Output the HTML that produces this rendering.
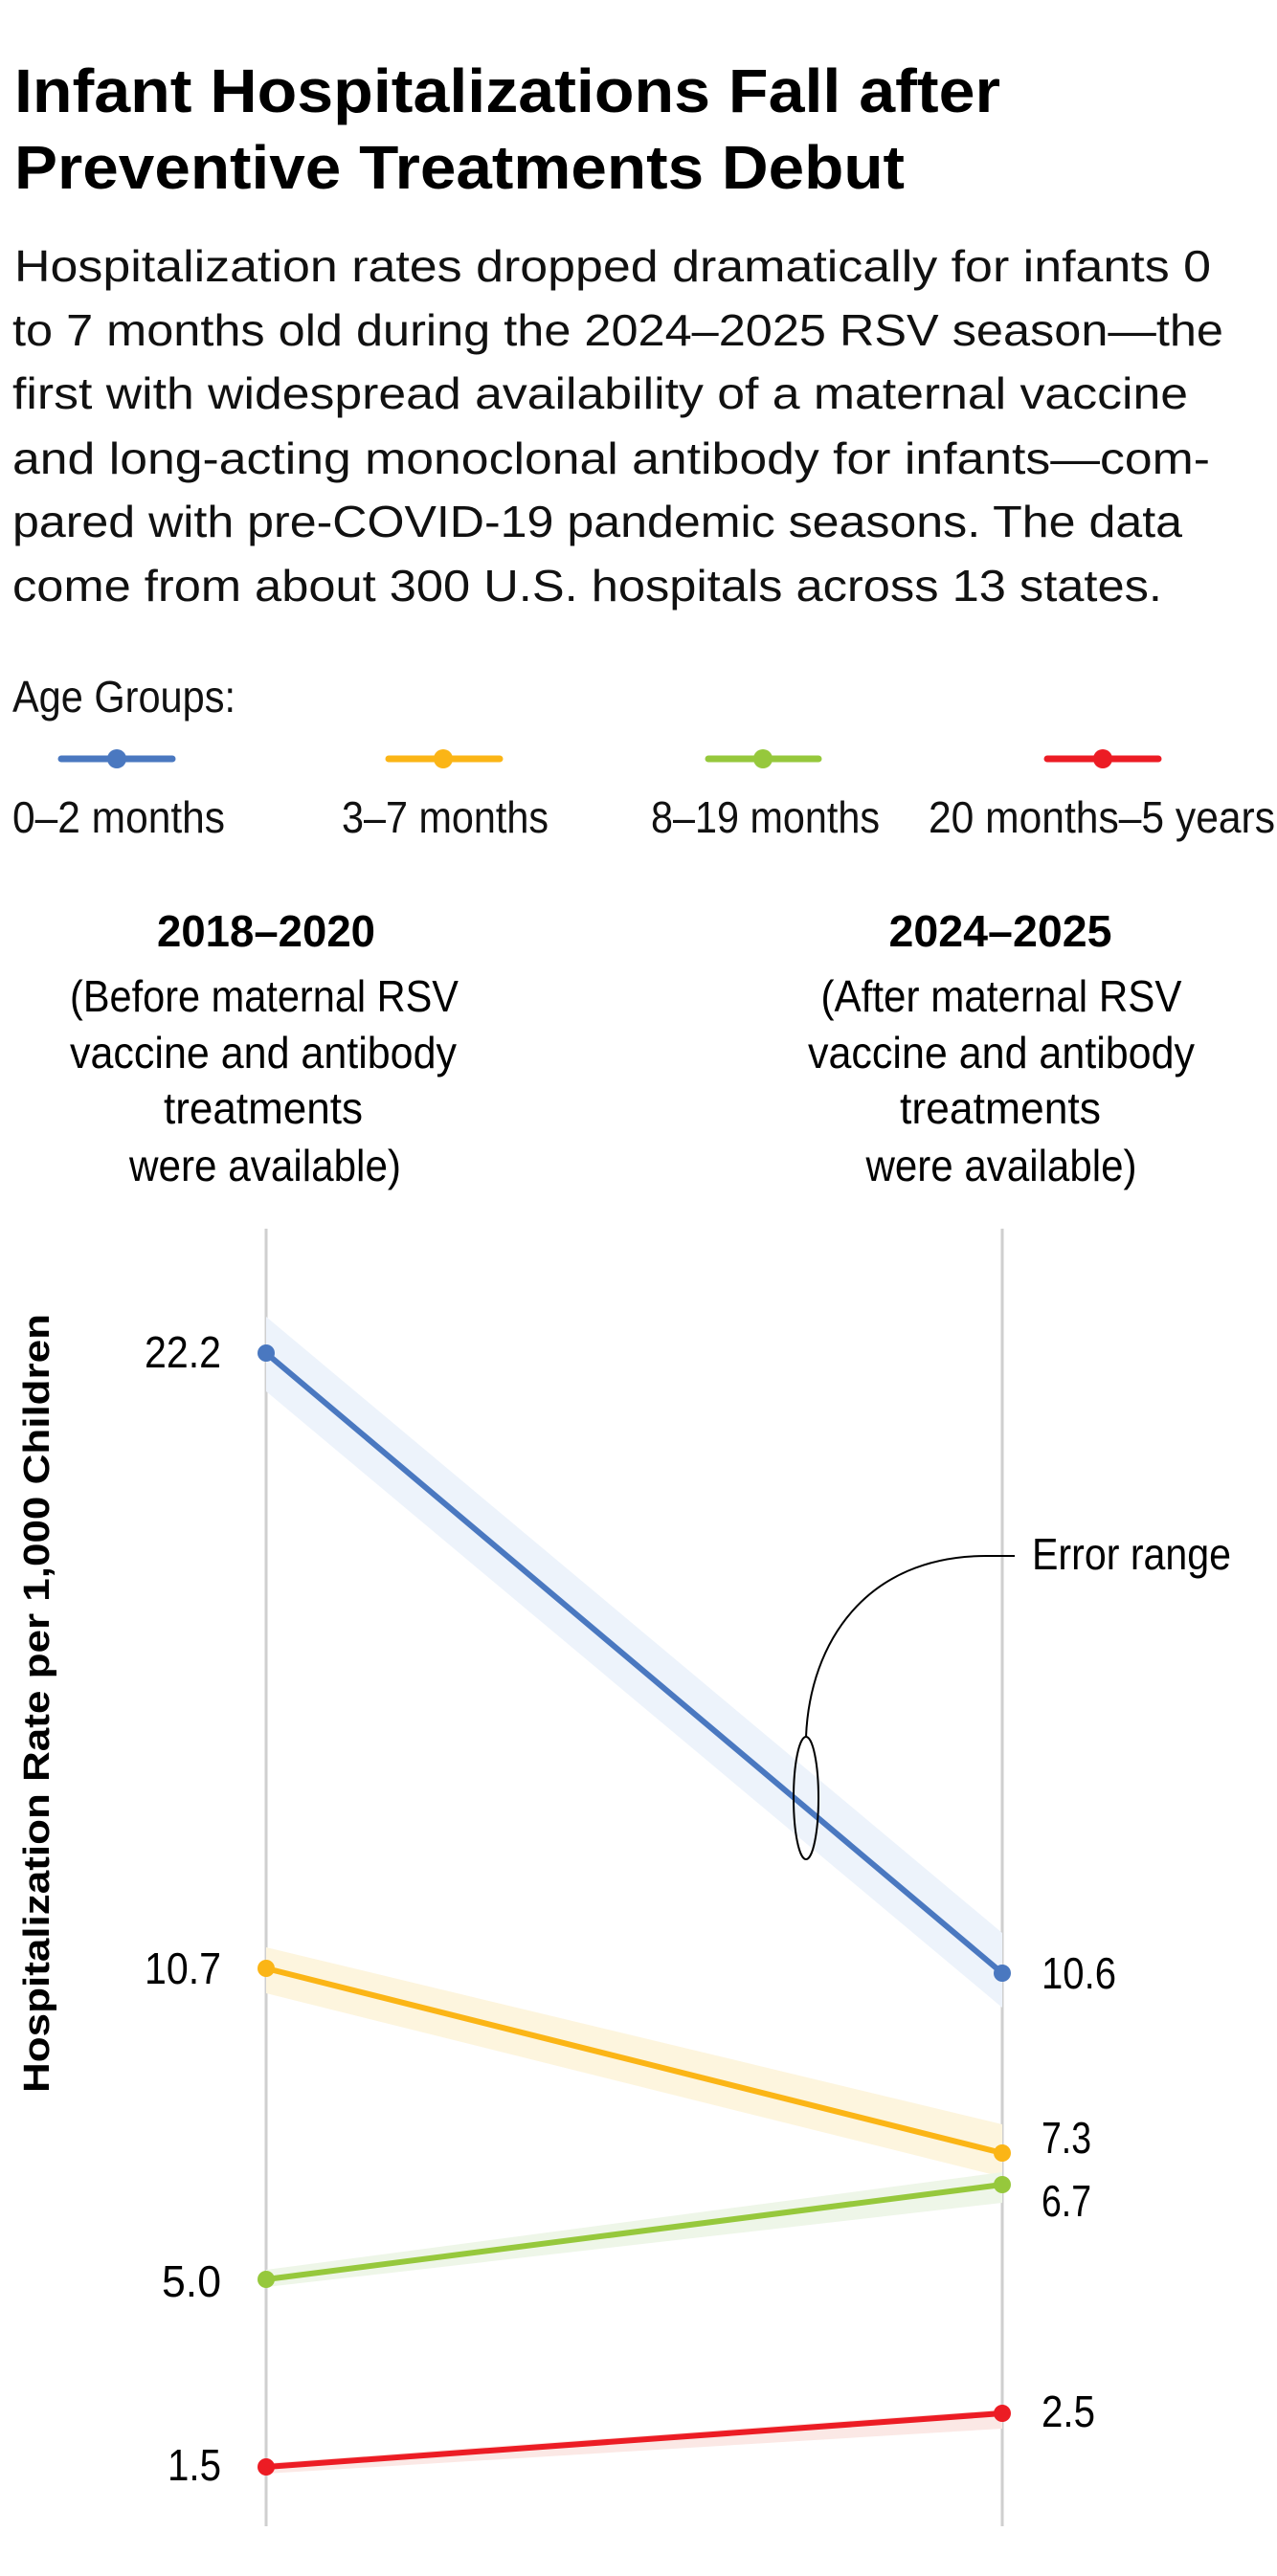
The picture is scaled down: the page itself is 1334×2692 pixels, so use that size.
<!DOCTYPE html>
<html><head><meta charset="utf-8"><style>
html,body{margin:0;padding:0;background:#fff;}
svg{display:block;font-family:"Liberation Sans",sans-serif;}
</style></head><body>
<svg width="1334" height="2692" viewBox="0 0 1334 2692" xmlns="http://www.w3.org/2000/svg">
<g fill="#000" font-weight="bold" font-size="64">
<text x="15" y="117" textLength="1030" lengthAdjust="spacingAndGlyphs">Infant Hospitalizations Fall after</text>
<text x="15" y="197" textLength="930" lengthAdjust="spacingAndGlyphs">Preventive Treatments Debut</text>
</g>
<g fill="#111" font-size="46">
<text x="15" y="294" textLength="1250" lengthAdjust="spacingAndGlyphs">Hospitalization rates dropped dramatically for infants 0</text>
<text x="13" y="361" textLength="1265" lengthAdjust="spacingAndGlyphs">to 7 months old during the 2024–2025 RSV season—the</text>
<text x="13" y="427" textLength="1228" lengthAdjust="spacingAndGlyphs">first with widespread availability of a maternal vaccine</text>
<text x="13" y="495" textLength="1251" lengthAdjust="spacingAndGlyphs">and long-acting monoclonal antibody for infants—com-</text>
<text x="13" y="561" textLength="1222" lengthAdjust="spacingAndGlyphs">pared with pre-COVID-19 pandemic seasons. The data</text>
<text x="13" y="628" textLength="1201" lengthAdjust="spacingAndGlyphs">come from about 300 U.S. hospitals across 13 states.</text>
<text x="13" y="744" textLength="233" lengthAdjust="spacingAndGlyphs">Age Groups:</text>
<text x="13" y="870" textLength="222" lengthAdjust="spacingAndGlyphs">0–2 months</text>
<text x="357" y="870" textLength="216" lengthAdjust="spacingAndGlyphs">3–7 months</text>
<text x="680" y="870" textLength="239" lengthAdjust="spacingAndGlyphs">8–19 months</text>
<text x="970" y="870" textLength="362" lengthAdjust="spacingAndGlyphs">20 months–5 years</text>
</g>
<g stroke-width="7" stroke-linecap="round">
<line x1="64" y1="793" x2="180" y2="793" stroke="#4a78c0"/><circle cx="122" cy="793" r="10" fill="#4a78c0"/>
<line x1="406" y1="793" x2="522" y2="793" stroke="#fbb516"/><circle cx="463" cy="793" r="10" fill="#fbb516"/>
<line x1="740" y1="793" x2="855" y2="793" stroke="#96c83c"/><circle cx="797" cy="793" r="10" fill="#96c83c"/>
<line x1="1094" y1="793" x2="1210" y2="793" stroke="#ec1c24"/><circle cx="1152" cy="793" r="10" fill="#ec1c24"/>
</g>
<g font-size="46" fill="#000" text-anchor="middle">
<text x="278" y="989" font-weight="bold" textLength="228" lengthAdjust="spacingAndGlyphs">2018–2020</text>
<text x="1045" y="989" font-weight="bold" textLength="233" lengthAdjust="spacingAndGlyphs">2024–2025</text>
<text x="276" y="1057" textLength="406" lengthAdjust="spacingAndGlyphs">(Before maternal RSV</text>
<text x="275" y="1116" textLength="404" lengthAdjust="spacingAndGlyphs">vaccine and antibody</text>
<text x="275" y="1174" textLength="208" lengthAdjust="spacingAndGlyphs">treatments</text>
<text x="277" y="1234" textLength="284" lengthAdjust="spacingAndGlyphs">were available)</text>
<text x="1046" y="1057" textLength="377" lengthAdjust="spacingAndGlyphs">(After maternal RSV</text>
<text x="1046" y="1116" textLength="404" lengthAdjust="spacingAndGlyphs">vaccine and antibody</text>
<text x="1045" y="1174" textLength="210" lengthAdjust="spacingAndGlyphs">treatments</text>
<text x="1046" y="1234" textLength="283" lengthAdjust="spacingAndGlyphs">were available)</text>
</g>
<line x1="278" y1="1284" x2="278" y2="2640" stroke="#cfcfcf" stroke-width="3"/>
<line x1="1047" y1="1284" x2="1047" y2="2640" stroke="#cfcfcf" stroke-width="3"/>
<!-- bands -->
<polygon points="278,1376 1047,2020 1047,2098 278,1454" fill="#edf3fb"/>
<polygon points="278,2035 1047,2220 1047,2275 278,2083" fill="#fdf5de"/>
<polygon points="278,2372 1047,2270 1047,2302 278,2390" fill="#eef6e8"/>
<polygon points="278,2574 1047,2518 1047,2538 278,2585" fill="#fbe8e5"/>
<!-- lines -->
<g stroke-width="6">
<line x1="278" y1="1414" x2="1047" y2="2062" stroke="#4a78c0"/>
<line x1="278" y1="2057" x2="1047" y2="2250" stroke="#fbb516"/>
<line x1="278" y1="2382" x2="1047" y2="2283" stroke="#96c83c"/>
<line x1="278" y1="2578" x2="1047" y2="2522" stroke="#ec1c24"/>
</g>
<circle cx="278" cy="1414" r="9" fill="#4a78c0"/><circle cx="1047" cy="2062" r="9" fill="#4a78c0"/>
<circle cx="278" cy="2057" r="9" fill="#fbb516"/><circle cx="1047" cy="2250" r="9" fill="#fbb516"/>
<circle cx="278" cy="2382" r="9" fill="#96c83c"/><circle cx="1047" cy="2283" r="9" fill="#96c83c"/>
<circle cx="278" cy="2578" r="9" fill="#ec1c24"/><circle cx="1047" cy="2522" r="9" fill="#ec1c24"/>
<!-- annotation -->
<path d="M1060,1626 L1030,1626 C905,1626 846,1716 842,1815" fill="none" stroke="#000" stroke-width="2"/>
<ellipse cx="842" cy="1879" rx="13" ry="64" fill="none" stroke="#000" stroke-width="2"/>
<g font-size="46" fill="#000">
<text x="1078" y="1640" textLength="208" lengthAdjust="spacingAndGlyphs">Error range</text>
<text x="231" y="1429" text-anchor="end" textLength="80" lengthAdjust="spacingAndGlyphs">22.2</text>
<text x="231" y="2073" text-anchor="end" textLength="80" lengthAdjust="spacingAndGlyphs">10.7</text>
<text x="231" y="2400" text-anchor="end" textLength="62" lengthAdjust="spacingAndGlyphs">5.0</text>
<text x="231" y="2592" text-anchor="end" textLength="56" lengthAdjust="spacingAndGlyphs">1.5</text>
<text x="1088" y="2078" textLength="78" lengthAdjust="spacingAndGlyphs">10.6</text>
<text x="1088" y="2250" textLength="52" lengthAdjust="spacingAndGlyphs">7.3</text>
<text x="1088" y="2316" textLength="52" lengthAdjust="spacingAndGlyphs">6.7</text>
<text x="1088" y="2536" textLength="56" lengthAdjust="spacingAndGlyphs">2.5</text>
</g>
<text transform="translate(51,1780) rotate(-90)" text-anchor="middle" font-size="38" font-weight="bold" textLength="814" lengthAdjust="spacingAndGlyphs">Hospitalization Rate per 1,000 Children</text>
</svg>
</body></html>
